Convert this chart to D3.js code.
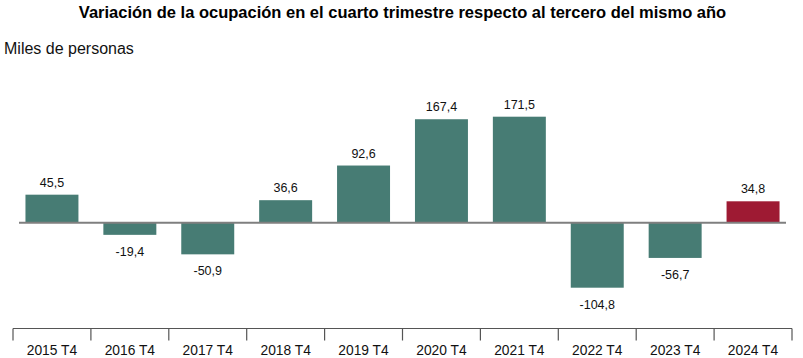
<!DOCTYPE html>
<html><head><meta charset="utf-8">
<script src="https://cdn.jsdelivr.net/npm/d3@7"></script>
<style>body{margin:0;background:#fff;}svg{display:block;font-family:"Liberation Sans",Arial,sans-serif;}</style>
</head><body>
<svg id="c" width="803" height="358"></svg>
<script>
const categories = ["2015 T4","2016 T4","2017 T4","2018 T4","2019 T4","2020 T4","2021 T4","2022 T4","2023 T4","2024 T4"];
const values = [45.5,-19.4,-50.9,36.6,92.6,167.4,171.5,-104.8,-56.7,34.8];
const valueLabels = ["45,5","-19,4","-50,9","36,6","92,6","167,4","171,5","-104,8","-56,7","34,8"];
const highlight = "2024 T4";

const svg = d3.select("#c");
const x = d3.scaleBand().domain(categories).range([13, 792]).paddingInner(0.32).paddingOuter(0.16);
const y = d3.scaleLinear().domain([-104.8, 171.5]).range([287.7, 116.7]);

svg.append("text").attr("x", 402.5).attr("y", 18).attr("text-anchor","middle")
  .attr("font-size", 16.5).attr("font-weight","bold").attr("fill","#000")
  .text("Variación de la ocupación en el cuarto trimestre respecto al tercero del mismo año");
svg.append("text").attr("x", 4).attr("y", 54).attr("font-size", 16).attr("fill","#111")
  .text("Miles de personas");

svg.selectAll("rect.bar").data(categories).join("rect").attr("class","bar")
  .attr("x", d => x(d)).attr("width", x.bandwidth())
  .attr("y", (d,i) => y(Math.max(0, values[i])))
  .attr("height", (d,i) => Math.abs(y(values[i]) - y(0)))
  .attr("fill", d => d === highlight ? "#9e1a33" : "#477c74");

svg.append("line").attr("x1", 19).attr("x2", 786).attr("y1", y(0)).attr("y2", y(0))
  .attr("stroke","#7f7f7f").attr("stroke-width", 2);

svg.selectAll("text.val").data(categories).join("text").attr("class","val")
  .attr("x", d => x(d) + x.bandwidth()/2)
  .attr("y", (d,i) => values[i] >= 0 ? y(values[i]) - 8 : y(values[i]) + 21)
  .attr("text-anchor","middle").attr("font-size", 12.5).attr("fill","#111")
  .text((d,i) => valueLabels[i]);

// bottom axis
const axY = 328.5;
const g = svg.append("g");
g.append("line").attr("x1", 13).attr("x2", 792).attr("y1", axY).attr("y2", axY).attr("stroke","#555").attr("stroke-width",1.2);
const edges = categories.map(d => x(d) - x.step()*x.paddingInner()/2).concat([792]);
g.selectAll("line.tk").data(edges).join("line").attr("class","tk")
  .attr("x1", d => d).attr("x2", d => d).attr("y1", axY).attr("y2", axY + 12)
  .attr("stroke","#555").attr("stroke-width",1.2);
g.selectAll("text.cat").data(categories).join("text").attr("class","cat")
  .attr("x", d => x(d) + x.bandwidth()/2).attr("y", 355)
  .attr("text-anchor","middle").attr("font-size", 13.8).attr("fill","#111").text(d => d);
</script>
</body></html>
